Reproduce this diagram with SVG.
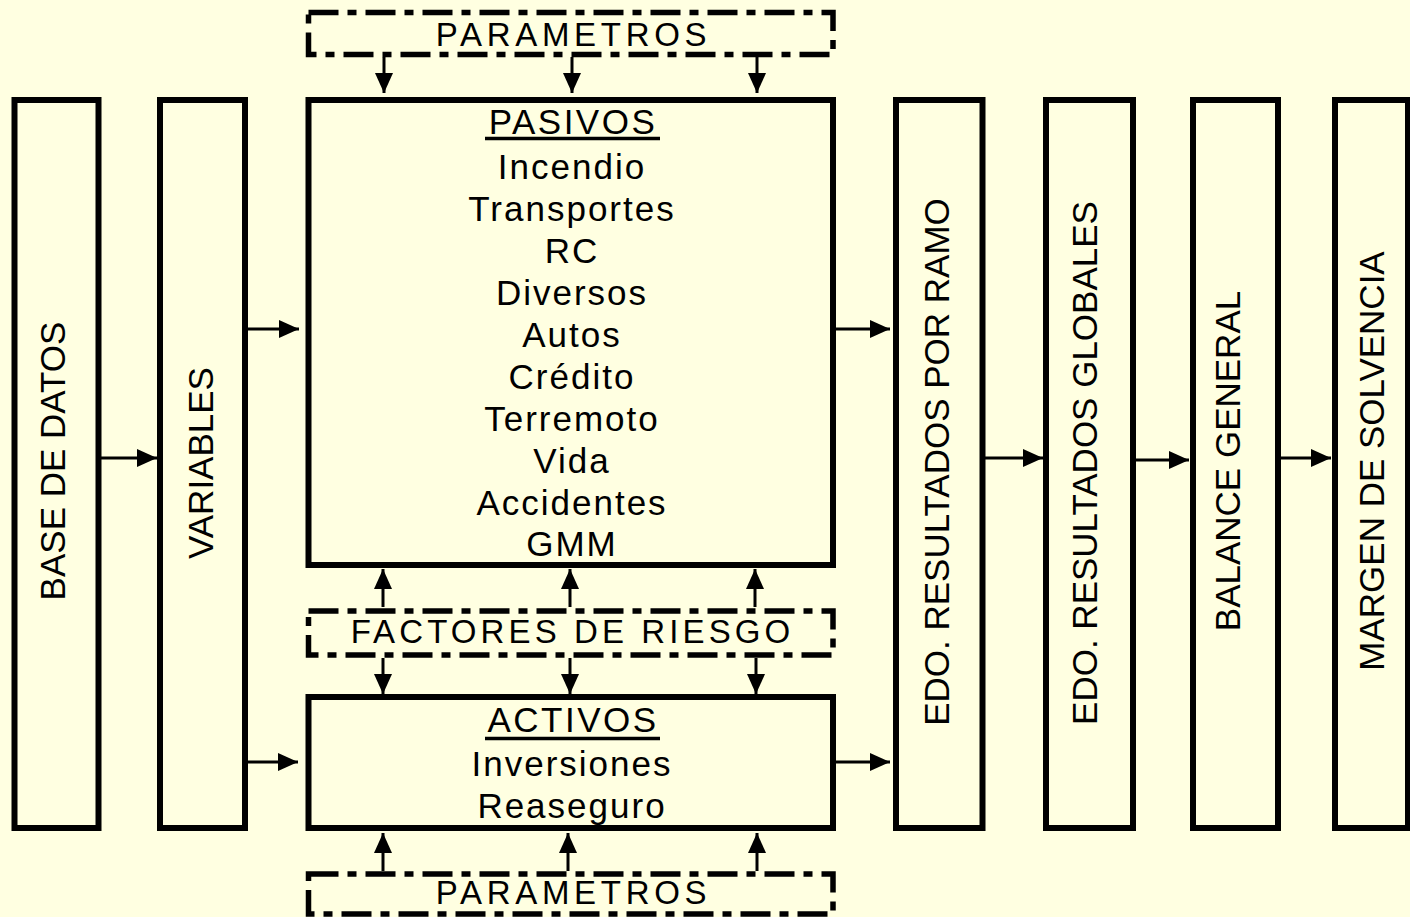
<svg xmlns="http://www.w3.org/2000/svg" width="1410" height="917" viewBox="0 0 1410 917">
<style>
.box{fill:none;stroke:#000;stroke-width:6}
.dash{fill:none;stroke:#000;stroke-width:5.5;stroke-dasharray:30 9 9 9}
.ln{stroke:#000;stroke-width:3;fill:none;marker-end:url(#ah)}
.ul{stroke:#000;stroke-width:3.5}
text{font-family:"Liberation Sans",Arial,sans-serif;fill:#000}
.vt{font-size:35px;text-anchor:middle}
.lt{font-size:35px;text-anchor:middle;letter-spacing:2px}
.hd{font-size:35px;text-anchor:middle;letter-spacing:2.5px}
.dt{font-size:33px;text-anchor:middle}
</style>
<defs>
<marker id="ah" markerUnits="userSpaceOnUse" markerWidth="22" markerHeight="20" refX="20" refY="9" orient="auto">
<path d="M0,0 L20,9 L0,18 z" fill="#000"/>
</marker>
</defs>
<rect width="1410" height="917" fill="#FFFFE1"/>

<g id="base-datos">
<rect class="box" x="14.5" y="100" width="84" height="728"/>
<text class="vt" transform="translate(65,461) rotate(-90)">BASE DE DATOS</text>
</g>
<g id="variables">
<rect class="box" x="160" y="100" width="85" height="728"/>
<text class="vt" transform="translate(213,463) rotate(-90)">VARIABLES</text>
</g>
<g id="parametros-top">
<rect class="dash" x="308.5" y="12.5" width="524.5" height="42"/>
<text class="dt" x="573.5" y="45.5" style="letter-spacing:4.7px">PARAMETROS</text>
</g>
<g id="pasivos">
<rect class="box" x="308.5" y="100" width="524.5" height="465"/>
<text class="hd" x="573" y="133.5">PASIVOS</text>
<line class="ul" x1="485" y1="138.5" x2="660" y2="138.5"/>
<text class="lt" x="572" y="178.5">Incendio</text>
<text class="lt" x="572" y="220.5">Transportes</text>
<text class="lt" x="572" y="262.5">RC</text>
<text class="lt" x="572" y="304.5">Diversos</text>
<text class="lt" x="572" y="346.5">Autos</text>
<text class="lt" x="572" y="388.5">Crédito</text>
<text class="lt" x="572" y="430.5">Terremoto</text>
<text class="lt" x="572" y="472.5">Vida</text>
<text class="lt" x="572" y="514.5">Accidentes</text>
<text class="lt" x="572" y="555.5">GMM</text>
</g>
<g id="factores-riesgo">
<rect class="dash" x="308.5" y="611" width="524.5" height="44"/>
<text class="dt" x="572.5" y="643" style="letter-spacing:4.1px">FACTORES DE RIESGO</text>
</g>
<g id="activos">
<rect class="box" x="308.5" y="697" width="524.5" height="131"/>
<text class="hd" x="573" y="732">ACTIVOS</text>
<line class="ul" x1="485" y1="738.5" x2="660" y2="738.5"/>
<text class="lt" x="572" y="775.5">Inversiones</text>
<text class="lt" x="572" y="818">Reaseguro</text>
</g>
<g id="parametros-bottom">
<rect class="dash" x="308.5" y="874" width="524.5" height="40"/>
<text class="dt" x="573.5" y="904" style="letter-spacing:4.7px">PARAMETROS</text>
</g>
<g id="edo-ramo">
<rect class="box" x="896" y="100" width="86.5" height="728"/>
<text class="vt" transform="translate(949,462) rotate(-90)">EDO. RESULTADOS POR RAMO</text>
</g>
<g id="edo-globales">
<rect class="box" x="1046" y="100" width="87" height="728"/>
<text class="vt" transform="translate(1097,463) rotate(-90)">EDO. RESULTADOS GLOBALES</text>
</g>
<g id="balance">
<rect class="box" x="1193" y="100" width="85" height="728"/>
<text class="vt" transform="translate(1240,461) rotate(-90)">BALANCE GENERAL</text>
</g>
<g id="margen">
<rect class="box" x="1335" y="100" width="73" height="728"/>
<text class="vt" transform="translate(1384,461) rotate(-90)">MARGEN DE SOLVENCIA</text>
</g>

<g id="connectors">
<line class="ln" x1="101" y1="458" x2="157" y2="458"/>
<line class="ln" x1="248" y1="329" x2="299" y2="329"/>
<line class="ln" x1="248" y1="762" x2="298" y2="762"/>
<line class="ln" x1="836" y1="329" x2="890" y2="329"/>
<line class="ln" x1="836" y1="762" x2="890" y2="762"/>
<line class="ln" x1="985" y1="458" x2="1043" y2="458"/>
<line class="ln" x1="1136" y1="460" x2="1189" y2="460"/>
<line class="ln" x1="1281" y1="458" x2="1331" y2="458"/>

<line class="ln" x1="384" y1="57" x2="384" y2="93"/>
<line class="ln" x1="572" y1="57" x2="572" y2="93"/>
<line class="ln" x1="757" y1="57" x2="757" y2="93"/>

<line class="ln" x1="383" y1="607" x2="383" y2="569"/>
<line class="ln" x1="570" y1="607" x2="570" y2="569"/>
<line class="ln" x1="755" y1="607" x2="755" y2="569"/>

<line class="ln" x1="383" y1="658" x2="383" y2="694"/>
<line class="ln" x1="570" y1="658" x2="570" y2="694"/>
<line class="ln" x1="756" y1="658" x2="756" y2="694"/>

<line class="ln" x1="383" y1="871" x2="383" y2="833"/>
<line class="ln" x1="568" y1="871" x2="568" y2="833"/>
<line class="ln" x1="757" y1="871" x2="757" y2="833"/>
</g>
</svg>
